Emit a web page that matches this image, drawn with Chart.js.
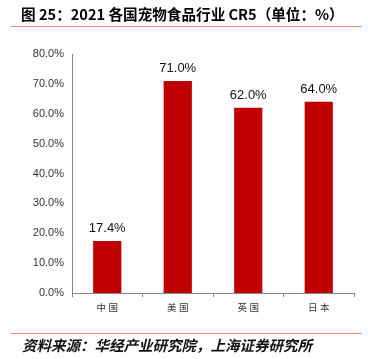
<!DOCTYPE html>
<html>
<head>
<meta charset="utf-8">
<script src="https://cdn.jsdelivr.net/npm/chart.js@4/dist/chart.umd.min.js"></script>
<style>
  html, body { margin: 0; padding: 0; background: #fff; }
  #wrap { width: 368px; height: 359px; position: relative; }
</style>
</head>
<body>
<div id="wrap"><canvas id="cr5Chart" width="368" height="359"></canvas></div>
<script>
const categories = ['中国', '美国', '英国', '日本'];
const cr5Values = [17.4, 71.0, 62.0, 64.0];
const yTicks = [0, 10, 20, 30, 40, 50, 60, 70, 80];

const titleText = '图 25：2021 各国宠物食品行业 CR5（单位：%）';
const sourceText = '资料来源：华经产业研究院，上海证券研究所';

// title, rules, source line and value labels
const decorPlugin = {
  id: 'decor',
  afterDraw(chart) {
    const ctx = chart.ctx;
    ctx.save();
    ctx.fillStyle = '#000';
    ctx.font = 'bold 14.6px "Noto Sans CJK SC", "Liberation Sans", sans-serif';
    ctx.textBaseline = 'alphabetic';
    ctx.textAlign = 'left';
    ctx.fillText(titleText, 21, 20);

    ctx.strokeStyle = '#ee8080';
    ctx.lineWidth = 1;
    ctx.beginPath();
    ctx.moveTo(11, 26.5); ctx.lineTo(362, 26.5);
    ctx.moveTo(11, 333.5); ctx.lineTo(362, 333.5);
    ctx.stroke();

    ctx.font = 'italic bold 14.5px "Noto Sans CJK SC", sans-serif';
    ctx.fillStyle = '#111';
    ctx.fillText(sourceText, 22, 351);

    // values above bars
    const meta = chart.getDatasetMeta(0);
    ctx.font = '13px "Liberation Sans", Arial, sans-serif';
    ctx.fillStyle = '#111';
    ctx.textAlign = 'center';
    meta.data.forEach((bar, i) => {
      ctx.fillText(cr5Values[i].toFixed(1) + '%', bar.x, bar.y - 9);
    });
    ctx.restore();
  }
};

const ctx = document.getElementById('cr5Chart').getContext('2d');
new Chart(ctx, {
  type: 'bar',
  data: {
    labels: categories,
    datasets: [{
      data: cr5Values,
      backgroundColor: '#c00000',
      borderWidth: 0,
      categoryPercentage: 0.8,
      barPercentage: 0.5
    }]
  },
  options: {
    responsive: false,
    animation: false,
    layout: { padding: { top: 54, right: 14, bottom: 36, left: 0 } },
    plugins: { legend: { display: false }, tooltip: { enabled: false } },
    scales: {
      y: {
        min: 0,
        max: 80,
        afterBuildTicks: s => { s.ticks = yTicks.map(v => ({ value: v })); },
        afterFit: s => { s.width = 72; },
        grid: { display: false, drawTicks: true, tickLength: 4, color: '#888' },
        border: { display: true, color: '#888' },
        ticks: {
          padding: 4,
          color: '#333',
          font: { family: '"Liberation Sans", Arial, sans-serif', size: 11 },
          callback: v => v.toFixed(1) + '%'
        }
      },
      x: {
        afterFit: s => { s.height = 30; },
        grid: { display: true, drawOnChartArea: false, offset: true, tickLength: 4, color: '#888' },
        border: { display: true, color: '#888' },
        ticks: {
          padding: 5,
          color: '#333',
          font: { family: '"Noto Sans CJK SC", sans-serif', size: 9.5 },
          callback: function (v) { return this.getLabelForValue(v).split('').join('\u2005'); }
        }
      }
    }
  },
  plugins: [decorPlugin]
});
</script>
</body>
</html>
